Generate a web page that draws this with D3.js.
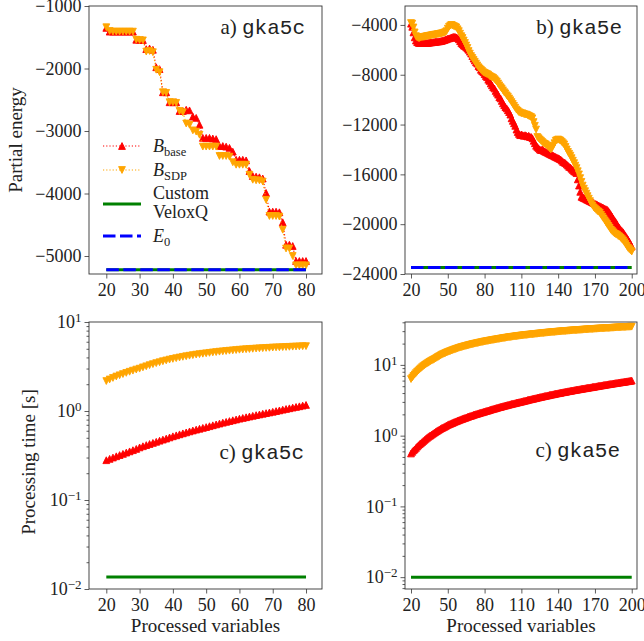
<!DOCTYPE html>
<html>
<head>
<meta charset="utf-8">
<script src="https://cdn.jsdelivr.net/npm/d3@7"></script>
<style>
  body { margin: 0; background: #fff; }
  svg text { font-family: "Liberation Serif", "Times New Roman", serif; fill: #222; }
</style>
</head>
<body>
<svg id="fig" width="644" height="641"></svg>
<script>
// ---------- data ----------
// processed variables for the two instances
const varsGka5c = d3.range(20, 81);
const varsGka5e = d3.range(20, 201);

// partial energy, gka5c (x = 20..80)
const energyBase5c = [
  -1350, -1410, -1410, -1410, -1410, -1410, -1410, -1410, -1410, -1540,
  -1540, -1545, -1690, -1680, -1700, -1980, -2010, -2380, -2380, -2540,
  -2540, -2540, -2680, -2680, -2660, -2670, -2770, -2790, -2900, -3110,
  -3110, -3110, -3120, -3130, -3240, -3240, -3250, -3270, -3330, -3460,
  -3460, -3460, -3470, -3640, -3720, -3730, -3740, -3760, -3990, -4290,
  -4290, -4290, -4300, -4460, -4820, -4820, -4840, -5080, -5080, -5080,
  -5080
];
const energySdp5c = [
  -1340, -1400, -1410, -1410, -1410, -1410, -1410, -1410, -1410, -1540,
  -1545, -1550, -1730, -1720, -1740, -2020, -2060, -2380, -2390, -2540,
  -2540, -2550, -2680, -2700, -2880, -2900, -2990, -3010, -3060, -3250,
  -3250, -3250, -3250, -3250, -3400, -3400, -3400, -3410, -3500, -3540,
  -3540, -3540, -3540, -3700, -3780, -3790, -3790, -3810, -4100, -4360,
  -4360, -4360, -4370, -4580, -4880, -4880, -5000, -5150, -5150, -5150,
  -5150
];

// partial energy, gka5e (x = 20..200)
const energyBase5e = [
  -3900, -4150, -4600, -5000, -5250, -5380, -5430, -5450, -5460, -5450,
  -5460, -5450, -5440, -5450, -5430, -5420, -5400, -5400, -5380, -5370,
  -5350, -5340, -5330, -5320, -5300, -5280, -5250, -5220, -5180, -5150,
  -5100, -5080, -5050, -5000, -4980, -4950, -4970, -5000, -5060, -5150,
  -5300, -5450, -5550, -5650, -5700, -5800, -5900, -6000, -6150, -6300,
  -6500, -6700, -6850, -7000, -7100, -7300, -7400, -7600, -7700, -7800,
  -7950, -8100, -8200, -8400, -8500, -8700, -8850, -9000, -9100, -9300,
  -9450, -9600, -9800, -9900, -10100, -10300, -10450, -10600, -10700, -10850,
  -11000, -11200, -11500, -11700, -11900, -12100, -12400, -12600, -12750, -12850,
  -12800, -12850, -12900, -12850, -12900, -12950, -12900, -13000, -13000, -13100,
  -13300, -13500, -13700, -13800, -13900, -14000, -14050, -14000, -14100, -14150,
  -14200, -14250, -14300, -14350, -14400, -14450, -14500, -14550, -14600, -14650,
  -14700, -14750, -14800, -14900, -15000, -15050, -15100, -15200, -15300, -15400,
  -15450, -15550, -15650, -15750, -15800, -15900, -16400, -16900, -17400, -17800,
  -17850, -17900, -17950, -18000, -18050, -18100, -18150, -18200, -18250, -18300,
  -18350, -18400, -18450, -18500, -18550, -18600, -18650, -18700, -18750, -18800,
  -18850, -18950, -19100, -19250, -19400, -19550, -19700, -19850, -20000, -20200,
  -20300, -20450, -20550, -20650, -20800, -20950, -21100, -21250, -21400, -21600,
  -21800
];
const energySdp5e = [
  -3850, -3900, -4200, -4600, -4900, -5000, -5050, -5050, -5000, -4980,
  -4960, -4950, -4930, -4900, -4880, -4870, -4850, -4830, -4800, -4790,
  -4780, -4760, -4740, -4720, -4700, -4680, -4660, -4620, -4580, -4500,
  -4300, -4150, -4050, -4000, -4050, -4100, -4150, -4200, -4350, -4500,
  -4700, -4900, -5050, -5250, -5450, -5650, -5850, -6100, -6300, -6500,
  -6650, -6800, -6950, -7100, -7250, -7400, -7500, -7600, -7700, -7800,
  -7850, -7900, -7950, -8000, -8100, -8150, -8200, -8250, -8350, -8450,
  -8550, -8700, -8850, -9000, -9100, -9250, -9400, -9500, -9650, -9750,
  -9900, -10050, -10200, -10350, -10500, -10650, -10800, -10900, -11000, -11050,
  -11100, -11100, -11150, -11200, -11200, -11250, -11300, -11350, -11400, -11500,
  -11800, -12100, -12400, -13000, -13100, -13200, -13300, -13400, -13500, -13550,
  -13600, -13700, -13800, -13900, -14000, -13900, -13700, -13500, -13300, -13250,
  -13200, -13250, -13300, -13400, -13500, -13600, -13800, -14000, -14200, -14350,
  -14500, -14700, -14900, -15100, -15300, -15500, -15750, -16000, -16300, -16600,
  -16900, -17150, -17350, -17550, -17750, -17950, -18150, -18350, -18500, -18650,
  -18750, -18850, -18950, -19000, -19100, -19250, -19400, -19550, -19700, -19850,
  -20000, -20150, -20300, -20450, -20550, -20650, -20750, -20800, -20850, -20950,
  -21000, -21100, -21200, -21300, -21450, -21600, -21750, -21900, -22000, -22100,
  -22200
];

// reference energies (VeloxQ reaches the ground state E0)
const groundEnergy5c = -5220;
const groundEnergy5e = -23470;

// processing time [s], gka5c (x = 20..80)
const timeBase5c = [
  0.280, 0.290, 0.300, 0.310, 0.320, 0.330, 0.341, 0.352, 0.363, 0.375,
  0.390, 0.402, 0.414, 0.426, 0.438, 0.451, 0.464, 0.477, 0.490, 0.505,
  0.520, 0.533, 0.547, 0.561, 0.575, 0.590, 0.604, 0.618, 0.632, 0.646,
  0.660, 0.675, 0.691, 0.707, 0.723, 0.739, 0.755, 0.771, 0.787, 0.803,
  0.820, 0.835, 0.851, 0.867, 0.883, 0.899, 0.915, 0.931, 0.947, 0.963,
  0.980, 0.998, 1.016, 1.035, 1.054, 1.073, 1.092, 1.111, 1.130, 1.150,
  1.170
];
const timeSdp5c = [
  2.17, 2.26, 2.35, 2.44, 2.52, 2.60, 2.68, 2.76, 2.84, 2.92,
  2.99, 3.09, 3.18, 3.27, 3.36, 3.45, 3.53, 3.62, 3.70, 3.78,
  3.85, 3.92, 3.99, 4.06, 4.12, 4.18, 4.24, 4.30, 4.35, 4.40,
  4.45, 4.50, 4.55, 4.59, 4.64, 4.68, 4.72, 4.76, 4.80, 4.84,
  4.88, 4.91, 4.94, 4.97, 5.00, 5.03, 5.06, 5.08, 5.11, 5.13,
  5.16, 5.18, 5.20, 5.22, 5.24, 5.26, 5.28, 5.30, 5.32, 5.34,
  5.35
];
const timeVelox5c = 0.0136;

// processing time [s], gka5e (x = 20..200)
const timeBase5e = [
  0.56, 0.59, 0.62, 0.64, 0.67, 0.70, 0.73, 0.76, 0.78, 0.81,
  0.84, 0.87, 0.90, 0.93, 0.96, 0.99, 1.01, 1.04, 1.07, 1.10,
  1.13, 1.16, 1.19, 1.22, 1.25, 1.28, 1.30, 1.33, 1.36, 1.39,
  1.42, 1.45, 1.47, 1.50, 1.52, 1.55, 1.58, 1.60, 1.63, 1.65,
  1.68, 1.71, 1.73, 1.76, 1.78, 1.81, 1.84, 1.86, 1.89, 1.91,
  1.94, 1.97, 1.99, 2.02, 2.04, 2.07, 2.09, 2.12, 2.14, 2.17,
  2.19, 2.22, 2.25, 2.27, 2.30, 2.33, 2.36, 2.39, 2.41, 2.44,
  2.47, 2.50, 2.53, 2.55, 2.58, 2.61, 2.64, 2.67, 2.69, 2.72,
  2.75, 2.78, 2.81, 2.83, 2.86, 2.89, 2.92, 2.95, 2.97, 3.00,
  3.03, 3.06, 3.09, 3.12, 3.15, 3.19, 3.22, 3.25, 3.28, 3.31,
  3.34, 3.37, 3.40, 3.44, 3.47, 3.50, 3.53, 3.56, 3.60, 3.63,
  3.66, 3.69, 3.72, 3.76, 3.79, 3.82, 3.85, 3.88, 3.92, 3.95,
  3.98, 4.01, 4.04, 4.08, 4.11, 4.14, 4.17, 4.20, 4.24, 4.27,
  4.30, 4.33, 4.36, 4.40, 4.43, 4.46, 4.49, 4.52, 4.56, 4.59,
  4.62, 4.65, 4.68, 4.72, 4.75, 4.78, 4.81, 4.84, 4.88, 4.91,
  4.94, 4.98, 5.01, 5.05, 5.08, 5.12, 5.15, 5.19, 5.22, 5.26,
  5.29, 5.33, 5.36, 5.40, 5.43, 5.47, 5.50, 5.54, 5.57, 5.61,
  5.64, 5.68, 5.71, 5.75, 5.78, 5.82, 5.86, 5.89, 5.93, 5.96,
  6.00
];
const timeSdp5e = [
  6.30, 6.64, 6.98, 7.32, 7.66, 8.00, 8.32, 8.64, 8.96, 9.28,
  9.60, 9.88, 10.16, 10.44, 10.72, 11.00, 11.26, 11.52, 11.78, 12.04,
  12.30, 12.62, 12.94, 13.26, 13.58, 13.90, 14.16, 14.42, 14.68, 14.94,
  15.20, 15.44, 15.68, 15.92, 16.16, 16.40, 16.64, 16.88, 17.12, 17.36,
  17.60, 17.80, 18.00, 18.20, 18.40, 18.60, 18.80, 19.00, 19.20, 19.40,
  19.60, 19.78, 19.96, 20.14, 20.32, 20.50, 20.68, 20.86, 21.04, 21.22,
  21.40, 21.56, 21.72, 21.88, 22.04, 22.20, 22.36, 22.52, 22.68, 22.84,
  23.00, 23.16, 23.32, 23.48, 23.64, 23.80, 23.96, 24.12, 24.28, 24.44,
  24.60, 24.74, 24.88, 25.02, 25.16, 25.30, 25.44, 25.58, 25.72, 25.86,
  26.00, 26.12, 26.24, 26.36, 26.48, 26.60, 26.72, 26.84, 26.96, 27.08,
  27.20, 27.32, 27.44, 27.56, 27.68, 27.80, 27.92, 28.04, 28.16, 28.28,
  28.40, 28.51, 28.62, 28.73, 28.84, 28.95, 29.06, 29.17, 29.28, 29.39,
  29.50, 29.60, 29.70, 29.80, 29.90, 30.00, 30.10, 30.20, 30.30, 30.40,
  30.50, 30.59, 30.68, 30.77, 30.86, 30.95, 31.04, 31.13, 31.22, 31.31,
  31.40, 31.49, 31.58, 31.67, 31.76, 31.85, 31.94, 32.03, 32.12, 32.21,
  32.30, 32.38, 32.46, 32.54, 32.62, 32.70, 32.78, 32.86, 32.94, 33.02,
  33.10, 33.18, 33.26, 33.34, 33.42, 33.50, 33.58, 33.66, 33.74, 33.82,
  33.90, 33.98, 34.06, 34.14, 34.22, 34.30, 34.38, 34.46, 34.54, 34.62,
  34.70
];
const timeVelox5e = 0.0100;

// tick values
const xTicks5c = [20, 30, 40, 50, 60, 70, 80];
const xTicks5e = [20, 50, 80, 110, 140, 170, 200];
const yTicksEnergy5c = [-1000, -2000, -3000, -4000, -5000];
const yTicksEnergy5e = [-4000, -8000, -12000, -16000, -20000, -24000];
const yTicksTime = [0.01, 0.1, 1, 10];

// ---------- styling ----------
const COLORS = { base: "#ff0000", sdp: "#ffa500", velox: "#008000", e0: "#0000ff" };
const SERIF = '"Liberation Serif", "Times New Roman", serif';
const MONO = '"Liberation Mono", "DejaVu Sans Mono", monospace';
const TICK_FONT = 18;
const R = 3.4; // triangle half size
const triUp = `M0,${-R}L${R},${R}L${-R},${R}Z`;
const triDown = `M0,${R}L${R},${-R}L${-R},${-R}Z`;

const svg = d3.select("#fig");

const layout = {
  a: { l: 89, r: 322, t: 6, b: 274 },
  b: { l: 405, r: 637, t: 6, b: 274 },
  c: { l: 89, r: 322, t: 322, b: 589 },
  d: { l: 405, r: 637, t: 322, b: 589 }
};

const minusFmt = d => (d < 0 ? "\u2212" : "") + Math.abs(d);

function minorLog(domain) {
  const out = [];
  for (let e = -3; e <= 2; e++) {
    for (let m = 2; m <= 9; m++) {
      const v = m * Math.pow(10, e);
      if (v >= domain[0] && v <= domain[1]) out.push(v);
    }
  }
  return out;
}

function makePanel(id, box, xDomain, y, xTicks, yTicks, isLog) {
  const x = d3.scaleLinear().domain(xDomain).range([box.l, box.r]);
  y.range([box.b, box.t]);
  const g = svg.append("g").attr("class", "panel-" + id);
  g.append("clipPath").attr("id", "clip-" + id)
    .append("rect").attr("x", box.l).attr("y", box.t)
    .attr("width", box.r - box.l).attr("height", box.b - box.t);
  const plot = g.append("g").attr("clip-path", `url(#clip-${id})`);
  const axesG = g.append("g");
  return { x, y, g, plot, axesG, box, xTicks, yTicks, isLog };
}

function finishAxes(p) {
  const { x, y, axesG, box, xTicks, yTicks, isLog } = p;
  axesG.append("g").attr("transform", `translate(0,${box.b})`)
    .call(d3.axisBottom(x).tickValues(xTicks).tickSize(4.5).tickPadding(4.5).tickFormat(d3.format("d")));
  const yAxis = d3.axisLeft(y).tickValues(yTicks).tickSize(4.5).tickPadding(3);
  if (isLog) yAxis.tickFormat(() => ""); else yAxis.tickFormat(minusFmt);
  const ya = axesG.append("g").attr("transform", `translate(${box.l},0)`).call(yAxis);
  if (isLog) {
    axesG.append("g").attr("transform", `translate(${box.l},0)`)
      .call(d3.axisLeft(y).tickValues(minorLog(y.domain())).tickSize(2.5).tickFormat(""));
    ya.selectAll(".tick text").each(function (d) {
      const e = Math.round(Math.log10(d));
      const t = d3.select(this);
      t.text("10");
      t.append("tspan").attr("dy", "-0.48em").attr("font-size", 13)
        .text((e < 0 ? "\u2212" : "") + Math.abs(e));
    });
  }
  axesG.selectAll("g").attr("font-family", null).attr("font-size", null);
  axesG.selectAll(".domain").remove();
  axesG.selectAll(".tick line").attr("stroke", "#333").attr("stroke-width", 0.8);
  axesG.selectAll(".tick text").attr("font-size", TICK_FONT).attr("fill", "#222");
  axesG.append("rect").attr("x", box.l).attr("y", box.t)
    .attr("width", box.r - box.l).attr("height", box.b - box.t)
    .attr("fill", "none").attr("stroke", "#333").attr("stroke-width", 0.9);
}

function drawSeries(p, xs, ys, color, marker) {
  const pts = xs.map((v, i) => [v, ys[i]]);
  const line = d3.line().x(d => p.x(d[0])).y(d => p.y(d[1]));
  p.plot.append("path").datum(pts).attr("d", line)
    .attr("fill", "none").attr("stroke", color).attr("stroke-width", 1.1)
    .attr("stroke-dasharray", "1.2,2");
  p.plot.append("g").selectAll("path").data(pts).join("path")
    .attr("d", marker)
    .attr("transform", d => `translate(${p.x(d[0])},${p.y(d[1])})`)
    .attr("fill", color).attr("stroke", color).attr("stroke-width", 0.9)
    .attr("stroke-linejoin", "miter");
}

function drawLevel(p, xs, level, color, dashed) {
  const pts = [[xs[0], level], [xs[xs.length - 1], level]];
  const line = d3.line().x(d => p.x(d[0])).y(d => p.y(d[1]));
  const path = p.plot.append("path").datum(pts).attr("d", line)
    .attr("fill", "none").attr("stroke", color).attr("stroke-width", 3);
  if (dashed) path.attr("stroke-dasharray", "12.5,4.5");
}

function title(xEnd, yBase, prefix, name) {
  const t = svg.append("text").attr("x", xEnd).attr("y", yBase)
    .attr("text-anchor", "end").attr("font-size", 21);
  t.append("tspan").attr("class", "serif").text(prefix + "\u00a0");
  t.append("tspan").attr("class", "mono").text(name);
}

// ---------- panel a: partial energy gka5c ----------
const pa = makePanel("a", layout.a, [14.8, 84.8],
  d3.scaleLinear().domain([-5288, -1000]), xTicks5c, yTicksEnergy5c, false);
drawSeries(pa, varsGka5c, energyBase5c, COLORS.base, triUp);
drawSeries(pa, varsGka5c, energySdp5c, COLORS.sdp, triDown);
drawLevel(pa, varsGka5c, groundEnergy5c, COLORS.velox, false);
drawLevel(pa, varsGka5c, groundEnergy5c, COLORS.e0, true);
finishAxes(pa);
title(305, 34, "a)", "gka5c");

// ---------- panel b: partial energy gka5e ----------
const pb = makePanel("b", layout.b, [15.1, 204.3],
  d3.scaleLinear().domain([-24000, -2480]), xTicks5e, yTicksEnergy5e, false);
drawSeries(pb, varsGka5e, energyBase5e, COLORS.base, triUp);
drawSeries(pb, varsGka5e, energySdp5e, COLORS.sdp, triDown);
drawLevel(pb, varsGka5e, groundEnergy5e, COLORS.velox, false);
drawLevel(pb, varsGka5e, groundEnergy5e, COLORS.e0, true);
finishAxes(pb);
title(622, 33.5, "b)", "gka5e");

// ---------- panel c: processing time gka5c ----------
const pc = makePanel("c", layout.c, [14.8, 84.8],
  d3.scaleLog().domain([0.01, 10]), xTicks5c, yTicksTime, true);
drawSeries(pc, varsGka5c, timeBase5c, COLORS.base, triUp);
drawSeries(pc, varsGka5c, timeSdp5c, COLORS.sdp, triDown);
drawLevel(pc, varsGka5c, timeVelox5c, COLORS.velox, false);
finishAxes(pc);
title(304, 459, "c)", "gka5c");

// ---------- panel d: processing time gka5e ----------
const pd = makePanel("d", layout.d, [15.1, 204.3],
  d3.scaleLog().domain([0.0068, 40.4]), xTicks5e, yTicksTime, true);
drawSeries(pd, varsGka5e, timeBase5e, COLORS.base, triUp);
drawSeries(pd, varsGka5e, timeSdp5e, COLORS.sdp, triDown);
drawLevel(pd, varsGka5e, timeVelox5e, COLORS.velox, false);
finishAxes(pd);
title(620, 457, "c)", "gka5e");

// ---------- axis labels ----------
svg.append("text").attr("transform", "translate(22,140) rotate(-90)")
  .attr("text-anchor", "middle").attr("font-size", 19).text("Partial energy");
svg.append("text").attr("transform", "translate(35,462) rotate(-90)")
  .attr("text-anchor", "middle").attr("font-size", 19).text("Processing time [s]");
svg.append("text").attr("x", (layout.c.l + layout.c.r) / 2).attr("y", 632)
  .attr("text-anchor", "middle").attr("font-size", 19).text("Processed variables");
svg.append("text").attr("x", (layout.d.l + layout.d.r) / 2).attr("y", 632)
  .attr("text-anchor", "middle").attr("font-size", 19).text("Processed variables");

// ---------- legend (panel a) ----------
const leg = svg.append("g").attr("class", "legend");
const lx0 = 103, lx1 = 141, ltx = 153;
function legendLine(yy, color, dash, width) {
  leg.append("line").attr("x1", lx0).attr("x2", lx1).attr("y1", yy).attr("y2", yy)
    .attr("stroke", color).attr("stroke-width", width)
    .attr("stroke-dasharray", dash);
}
function legendMarker(yy, color, marker) {
  leg.append("path").attr("d", marker)
    .attr("transform", `translate(${(lx0 + lx1) / 2},${yy})`)
    .attr("fill", color).attr("stroke", color).attr("stroke-width", 0.9);
}
legendLine(146, COLORS.base, "1.2,2", 1.1);
legendMarker(146, COLORS.base, triUp);
legendLine(170, COLORS.sdp, "1.2,2", 1.1);
legendMarker(170, COLORS.sdp, triDown);
legendLine(204, COLORS.velox, null, 3);
legendLine(236, COLORS.e0, "12.5,4.5", 3);

function subLabel(yy, main, sub) {
  const t = leg.append("text").attr("x", ltx).attr("y", yy).attr("font-size", 18);
  t.append("tspan").attr("font-style", "italic").text(main);
  t.append("tspan").attr("dy", 4).attr("font-size", 12.5).text(sub);
}
subLabel(152, "B", "base");
subLabel(176, "B", "SDP");
leg.append("text").attr("x", ltx).attr("y", 199).attr("font-size", 18).text("Custom");
leg.append("text").attr("x", ltx).attr("y", 218).attr("font-size", 18).text("VeloxQ");
subLabel(242, "E", "0");

// font families applied explicitly to every text element
svg.selectAll("text").style("font-family", SERIF).style("fill", "#222");
svg.selectAll("tspan.mono").style("font-family", MONO);
</script>
</body>
</html>
